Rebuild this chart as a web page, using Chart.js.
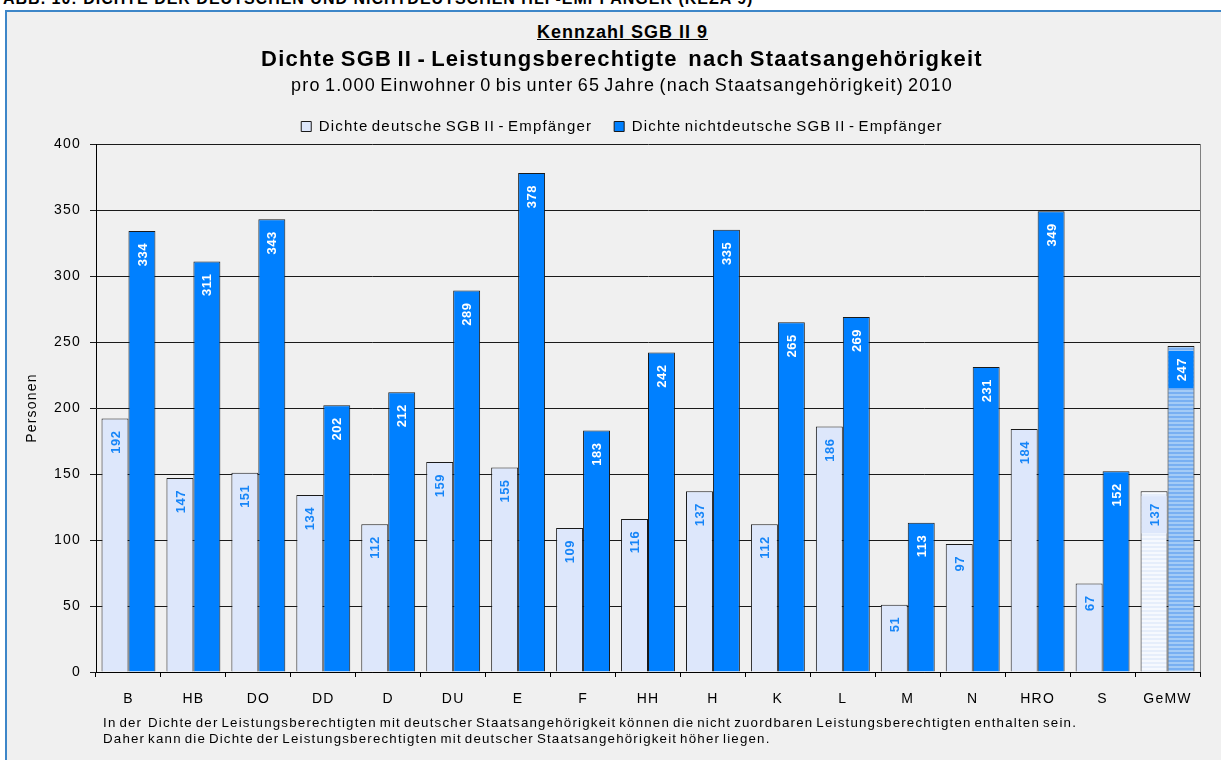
<!DOCTYPE html>
<html lang="de">
<head>
  <meta charset="UTF-8" />
  <title>Kennzahl SGB II 9</title>
  <script src="https://cdn.jsdelivr.net/npm/chart.js"></script>
  <style>
    html, body {
      margin: 0;
      padding: 0;
      width: 1221px;
      height: 760px;
      overflow: hidden;
      background: #fff;
      font-family: 'Liberation Sans', Arial, sans-serif;
    }

    .kopf {
      position: absolute;
      left: 3px;
      top: -10px;
      font-size: 16px;
      font-weight: bold;
      letter-spacing: 1px;
      white-space: nowrap;
    }

    .rahmen {
      position: absolute;
      left: 5px;
      top: 10px;
      width: 1240px;
      height: 760px;
      background: #f0f0f0;
      border: 2px solid #3d86c8;
    }

    .kennzahl {
      position: absolute;
      left: 0;
      width: 1245px;
      top: 22px;
      text-align: center;
      font-size: 18px;
      font-weight: bold;
      letter-spacing: 1px;
      text-decoration: underline;
    }

    .chart-box {
      position: absolute;
      left: 0;
      top: 0;
      width: 1245px;
      height: 760px;
    }

    .fuss {
      position: absolute;
      left: 103px;
      top: 715px;
      font-size: 13.3px;
      line-height: 16px;
      letter-spacing: 1.2px;
      word-spacing: -2px;
      white-space: nowrap;
    }
  </style>
</head>
<body>
  <div class="kopf">ABB. 10: DICHTE DER DEUTSCHEN UND NICHTDEUTSCHEN HLF-EMPFÄNGER (KEZA 9)</div>
  <div class="rahmen"></div>
  <div class="kennzahl">Kennzahl SGB II 9</div>
  <div class="chart-box"><canvas id="dichte-chart" width="1245" height="760"></canvas></div>
  <div class="fuss">
    In der&nbsp; Dichte der Leistungsberechtigten mit deutscher Staatsangehörigkeit können die nicht zuordbaren Leistungsberechtigten enthalten sein.<br>
    Daher kann die Dichte der Leistungsberechtigten mit deutscher Staatsangehörigkeit höher liegen.
  </div>

  <script>
    const staedte = ['B', 'HB', 'DO', 'DD', 'D', 'DU', 'E', 'F', 'HH', 'H', 'K', 'L', 'M', 'N', 'HRO', 'S', 'GeMW'];
    const deutsche = [192, 147, 151, 134, 112, 159, 155, 109, 116, 137, 112, 186, 51, 97, 184, 67, 137];
    const nichtdeutsche = [334, 311, 343, 202, 212, 289, 378, 183, 242, 335, 265, 269, 113, 231, 349, 152, 247];
    const yTicks = [0, 50, 100, 150, 200, 250, 300, 350, 400];

    const FONT = "'Liberation Sans', Arial, sans-serif";
    const letzter = staedte.length - 1;

    // horizontal stripes for the average (GeMW) bars
    function streifen(a, b, h) {
      const c = document.createElement('canvas');
      c.width = 4;
      c.height = h * 2;
      const g = c.getContext('2d');
      g.fillStyle = a;
      g.fillRect(0, 0, 4, h);
      g.fillStyle = b;
      g.fillRect(0, h, 4, h);
      return g.createPattern(c, 'repeat');
    }

    const hellMuster = streifen('#f6f9fe', '#e6eefb', 2);
    const dunkelMuster = streifen('#78aff2', '#a4cbf6', 2);

    // the original text is set a little wider than Liberation Sans, with narrow word gaps
    function sperren(ctx) {
      ctx.letterSpacing = '1.2px';
      ctx.wordSpacing = '-2px';
    }
    const sperrung = {
      id: 'sperrung',
      beforeUpdate(chart) { sperren(chart.ctx); },
      beforeDraw(chart) { sperren(chart.ctx); }
    };

    // rotated value labels inside the top of each bar
    const wertLabels = {
      id: 'wertLabels',
      afterDatasetsDraw(chart) {
        const ctx = chart.ctx;
        chart.data.datasets.forEach((ds, di) => {
          chart.getDatasetMeta(di).data.forEach((bar, i) => {
            const text = String(ds.data[i]);
            ctx.save();
            ctx.letterSpacing = '0.5px';
            ctx.font = 'bold 13px ' + FONT;
            const w = ctx.measureText(text).width;
            const top = bar.y + 5;
            if (i === letzter) {
              ctx.fillStyle = ds.labelBg;
              ctx.fillRect(bar.x - bar.width / 2 + 1, top, bar.width - 2, w + 14);
            }
            ctx.translate(bar.x, top + 7);
            ctx.rotate(-Math.PI / 2);
            ctx.textAlign = 'right';
            ctx.textBaseline = 'middle';
            ctx.fillStyle = ds.labelColor;
            ctx.fillText(text, 0, 1);
            ctx.restore();
          });
        });
      }
    };

    const rechterRand = {
      id: 'rechterRand',
      afterDraw(chart) {
        const a = chart.chartArea;
        const ctx = chart.ctx;
        ctx.save();
        ctx.strokeStyle = '#808080';
        ctx.lineWidth = 1;
        ctx.beginPath();
        ctx.moveTo(Math.round(a.right) + 0.5, a.top);
        ctx.lineTo(Math.round(a.right) + 0.5, a.bottom);
        ctx.stroke();
        ctx.restore();
      }
    };

    new Chart(document.getElementById('dichte-chart'), {
      type: 'bar',
      data: {
        labels: staedte,
        datasets: [{
          label: 'Dichte deutsche SGB II - Empfänger',
          data: deutsche,
          backgroundColor: c => c.dataIndex === letzter ? hellMuster : '#dde7fb',
          borderColor: '#1a1a1a',
          borderWidth: 1,
          labelColor: '#1685f8',
          labelBg: '#dde7fb',
          barPercentage: 1,
          categoryPercentage: 0.83
        }, {
          label: 'Dichte nichtdeutsche SGB II - Empfänger',
          data: nichtdeutsche,
          backgroundColor: c => c.dataIndex === letzter ? dunkelMuster : '#0080ff',
          borderColor: '#1a1a1a',
          borderWidth: 1,
          labelColor: '#ffffff',
          labelBg: '#0080ff',
          barPercentage: 1,
          categoryPercentage: 0.83
        }]
      },
      options: {
        responsive: false,
        animation: false,
        layout: { padding: { top: 0, left: 44, right: 45, bottom: 52 } },
        plugins: {
          title: {
            display: true,
            text: 'Dichte SGB II - Leistungsberechtigte  nach Staatsangehörigkeit',
            color: '#000',
            font: { family: FONT, size: 22, weight: 'bold' },
            padding: { top: 47, bottom: 0 }
          },
          subtitle: {
            display: true,
            text: 'pro 1.000 Einwohner 0 bis unter 65 Jahre (nach Staatsangehörigkeit) 2010',
            color: '#000',
            font: { family: FONT, size: 18 },
            padding: { top: 2, bottom: 0 }
          },
          legend: {
            position: 'top',
            labels: {
              color: '#000',
              font: { family: FONT, size: 15 },
              boxWidth: 10,
              boxHeight: 10,
              padding: 22
            }
          },
          tooltip: { enabled: false }
        },
        scales: {
          x: {
            grid: { drawOnChartArea: false, tickLength: 5, color: '#000' },
            border: { color: '#000' },
            ticks: { color: '#000', font: { family: FONT, size: 14 }, padding: 14 },
            afterFit: s => { s.height = 36; }
          },
          y: {
            min: 0,
            max: 400,
            afterBuildTicks: s => { s.ticks = yTicks.map(v => ({ value: v })); },
            grid: { color: '#1a1a1a', tickLength: 6 },
            border: { color: '#000' },
            ticks: { color: '#000', font: { family: FONT, size: 14 }, padding: 9 },
            title: {
              display: true,
              text: 'Personen',
              color: '#000',
              font: { family: FONT, size: 14 },
              padding: { top: -20 }
            },
            afterFit: s => { s.width = 52; }
          }
        }
      },
      plugins: [sperrung, wertLabels, rechterRand]
    });
  </script>
</body>
</html>
